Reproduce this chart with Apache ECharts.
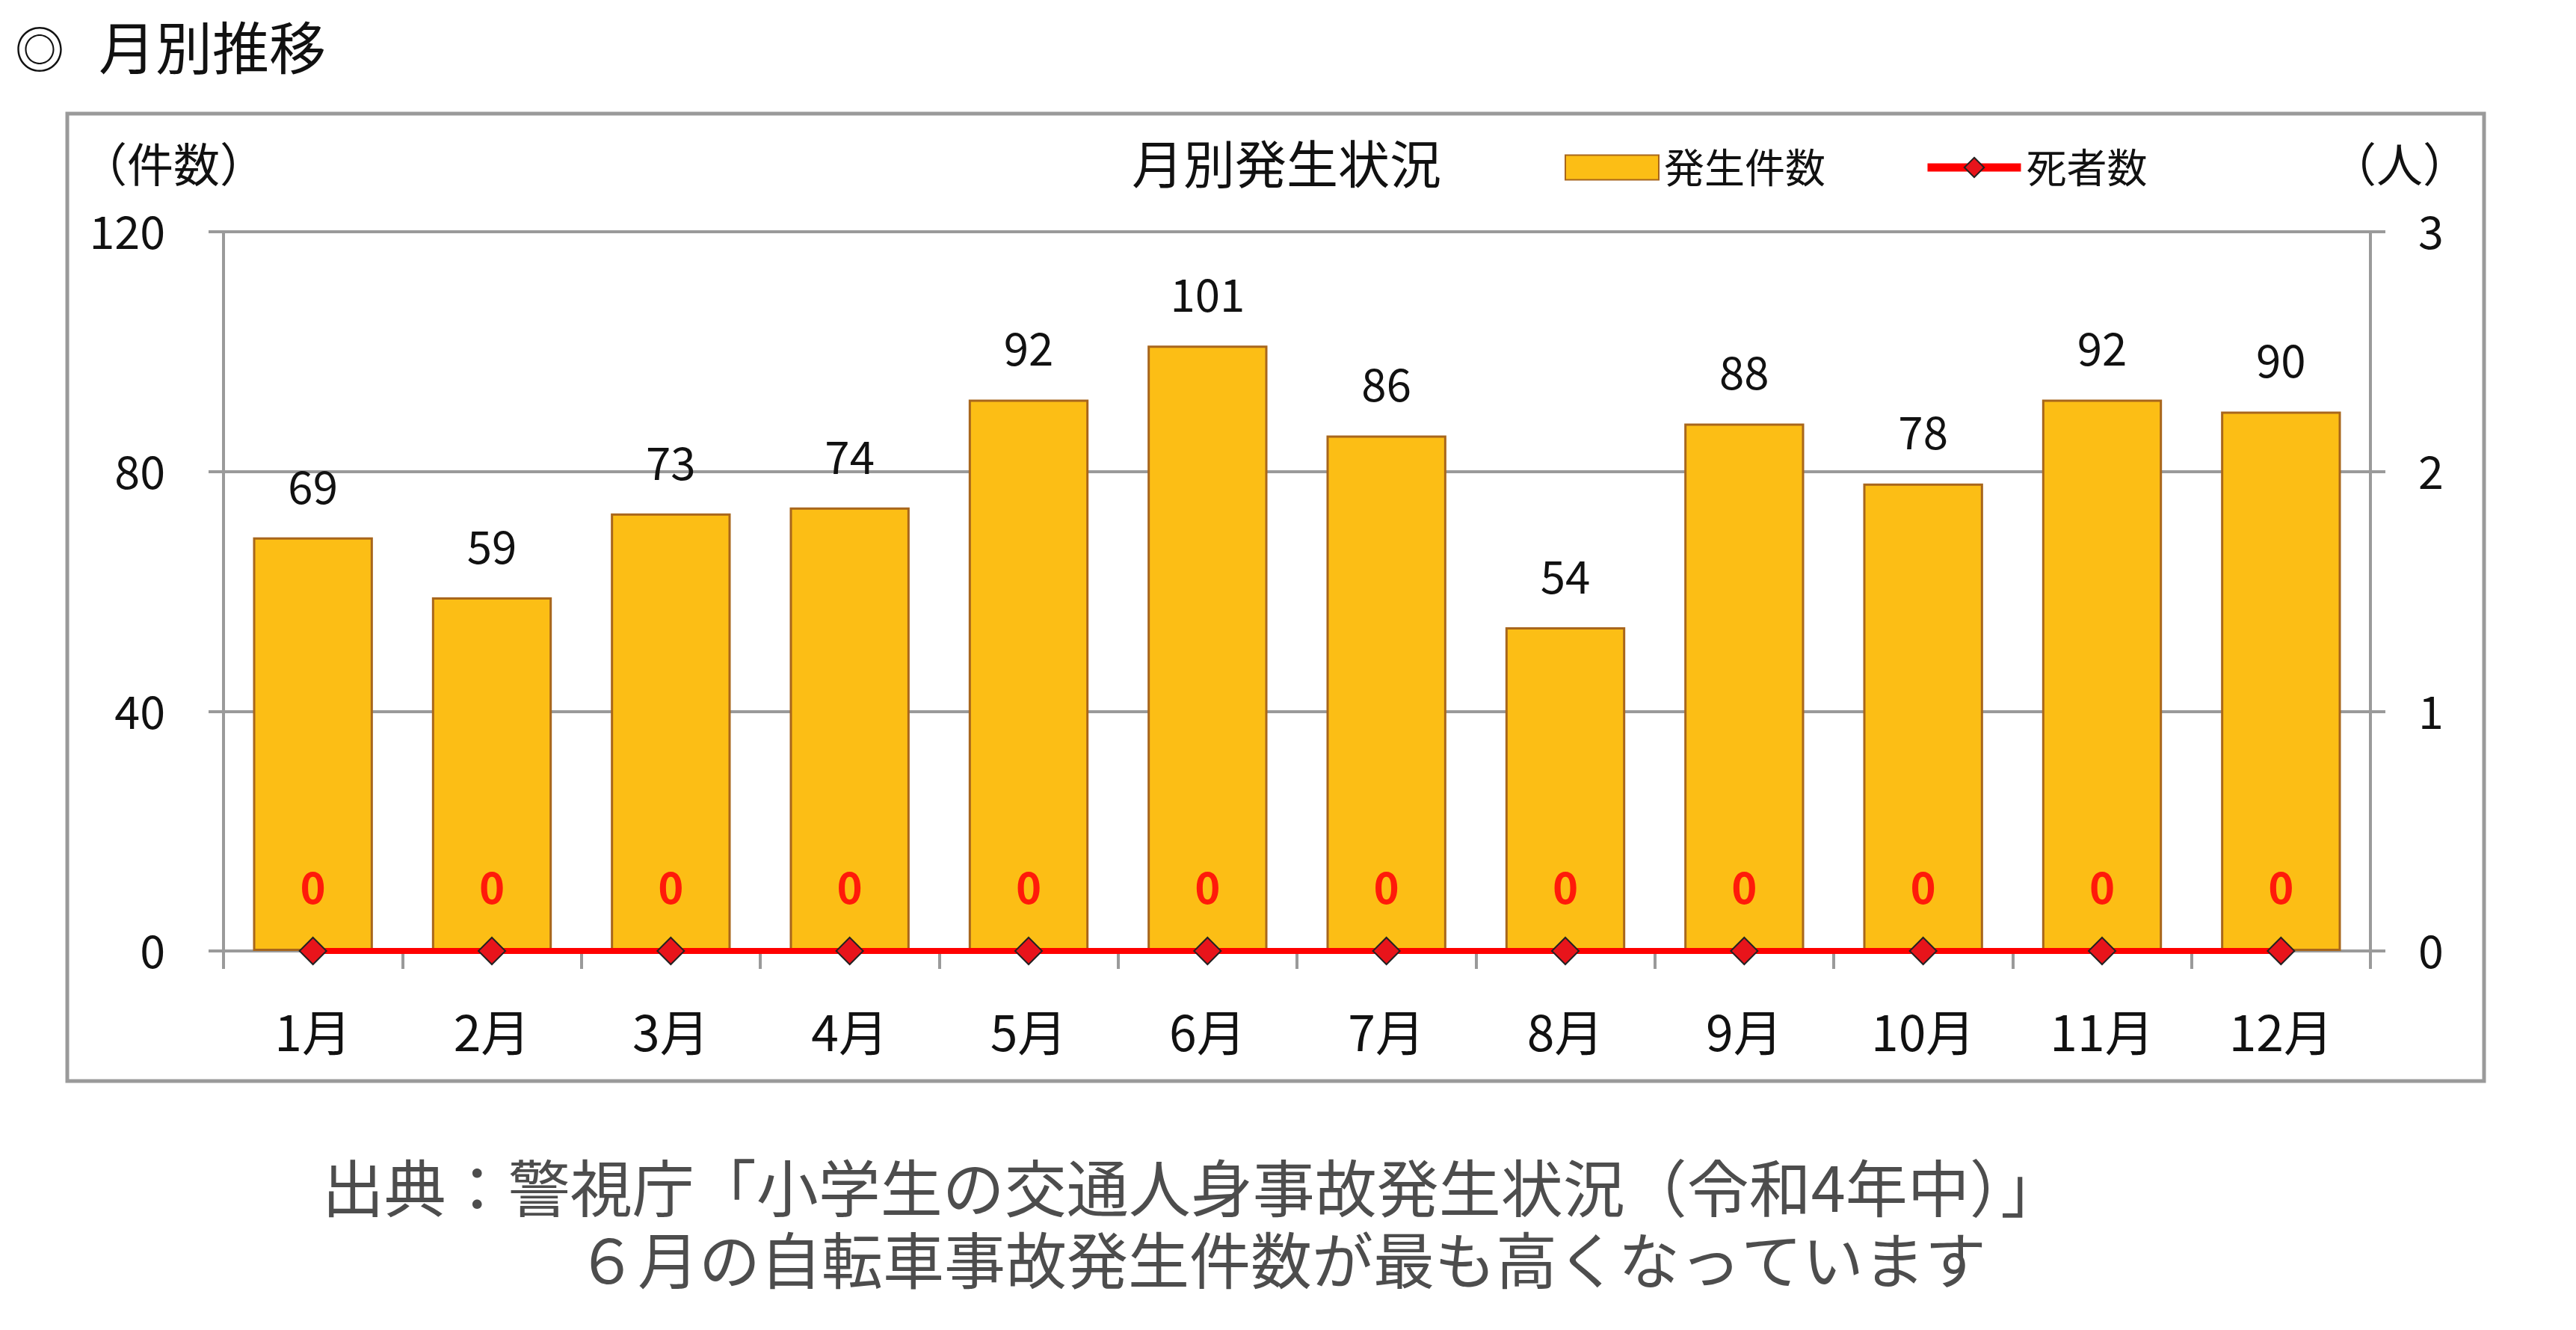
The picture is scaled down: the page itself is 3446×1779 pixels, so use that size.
<!DOCTYPE html>
<html>
<head>
<meta charset="utf-8">
<script src="https://cdn.jsdelivr.net/npm/echarts@6/dist/echarts.min.js"></script>
<style>
html,body{margin:0;padding:0;background:#fff;}
#main{width:3446px;height:1779px;}
</style>
</head>
<body>
<div id="main"></div>
<script>
const categories = ['1月','2月','3月','4月','5月','6月','7月','8月','9月','10月','11月','12月'];
const accidents = [69, 59, 73, 74, 92, 101, 86, 54, 88, 78, 92, 90];
const deaths = [0, 0, 0, 0, 0, 0, 0, 0, 0, 0, 0, 0];
const leftAxis = {min: 0, max: 120, interval: 40};
const rightAxis = {min: 0, max: 3, interval: 1};

const FONT = '"Noto Sans CJK JP", "Noto Sans", sans-serif';
const chart = echarts.init(document.getElementById('main'));
const gray = '#9a9a9a';

chart.setOption({
  backgroundColor: '#ffffff',
  animation: false,
  textStyle: {fontFamily: FONT},
  grid: {left: 299, right: 275, top: 310, bottom: 507, containLabel: false},
  legend: {
    left: 2088, top: 192,
    itemWidth: 125, itemHeight: 33, itemGap: 131,
    textStyle: {fontSize: 54, color: '#111', fontFamily: FONT, padding: [0,0,0,2]},
    data: [
      {name: '発生件数', icon: 'rect'},
      {name: '死者数', lineStyle: {width: 11, color: '#FF0000'}}
    ]
  },
  xAxis: {
    type: 'category',
    data: categories,
    axisLine: {show: true, lineStyle: {color: gray, width: 4}},
    axisTick: {show: true, length: 24, lineStyle: {color: gray, width: 4}},
    axisLabel: {fontSize: 66, color: '#111', margin: 76, fontFamily: FONT},
    splitLine: {show: false}
  },
  yAxis: [
    {
      type: 'value', min: leftAxis.min, max: leftAxis.max, interval: leftAxis.interval,
      axisLine: {show: true, lineStyle: {color: gray, width: 4}},
      axisTick: {show: true, length: 20, lineStyle: {color: gray, width: 4}},
      axisLabel: {fontSize: 61, color: '#111', margin: 78, fontFamily: FONT},
      splitLine: {show: true, lineStyle: {color: gray, width: 4}}
    },
    {
      type: 'value', min: rightAxis.min, max: rightAxis.max, interval: rightAxis.interval,
      position: 'right',
      axisLine: {show: true, lineStyle: {color: gray, width: 4}},
      axisTick: {show: true, length: 20, lineStyle: {color: gray, width: 4}},
      axisLabel: {fontSize: 61, color: '#111', margin: 64, fontFamily: FONT},
      splitLine: {show: false}
    }
  ],
  series: [
    {
      name: '発生件数',
      type: 'bar',
      data: accidents,
      barCategoryGap: '33%',
      itemStyle: {color: '#FCBE15', borderColor: '#A8661C', borderWidth: 3},
      label: {show: true, position: 'top', distance: 38, fontSize: 60, color: '#111', fontFamily: FONT},
      z: 2
    },
    {
      name: '死者数',
      type: 'line',
      yAxisIndex: 1,
      data: deaths,
      clip: false,
      lineStyle: {color: '#FF0000', width: 8},
      symbol: 'diamond',
      symbolSize: 36,
      itemStyle: {color: '#E8141B', borderColor: '#222', borderWidth: 2},
      label: {show: true, position: 'top', distance: 37, fontSize: 58, fontWeight: 'bold', color: '#FF1A0A', fontFamily: FONT},
      z: 5
    }
  ],
  graphic: [
    {type: 'rect', shape: {x: 90, y: 152, width: 3233, height: 1294}, style: {fill: 'none', stroke: gray, lineWidth: 5}, z: -1, silent: true},
    {type: 'text', style: {text: '◎', x: 20, y: 66, font: '66px ' + FONT, fill: '#111', textVerticalAlign: 'middle'}},
    {type: 'text', style: {text: '月別推移', x: 132, y: 64, font: '76px ' + FONT, fill: '#111', textVerticalAlign: 'middle'}},
    {type: 'text', style: {text: '（件数）', x: 108, y: 220, font: '62px ' + FONT, fill: '#111', textVerticalAlign: 'middle'}},
    {type: 'text', style: {text: '月別発生状況', x: 1514, y: 220, font: '69px ' + FONT, fill: '#111', textVerticalAlign: 'middle'}},
    {type: 'text', style: {text: '（人）', x: 3303, y: 220, font: '62px ' + FONT, fill: '#111', textAlign: 'right', textVerticalAlign: 'middle'}},
    {type: 'text', style: {text: '出典：警視庁「小学生の交通人身事故発生状況（令和4年中）」', x: 1595, y: 1589, font: '83px ' + FONT, fill: '#4d4d4d', textAlign: 'center', textVerticalAlign: 'middle'}},
    {type: 'text', style: {text: '６月の自転車事故発生件数が最も高くなっています', x: 1714, y: 1686, font: '82px ' + FONT, fill: '#4d4d4d', textAlign: 'center', textVerticalAlign: 'middle'}}
  ]
});
</script>
</body>
</html>
